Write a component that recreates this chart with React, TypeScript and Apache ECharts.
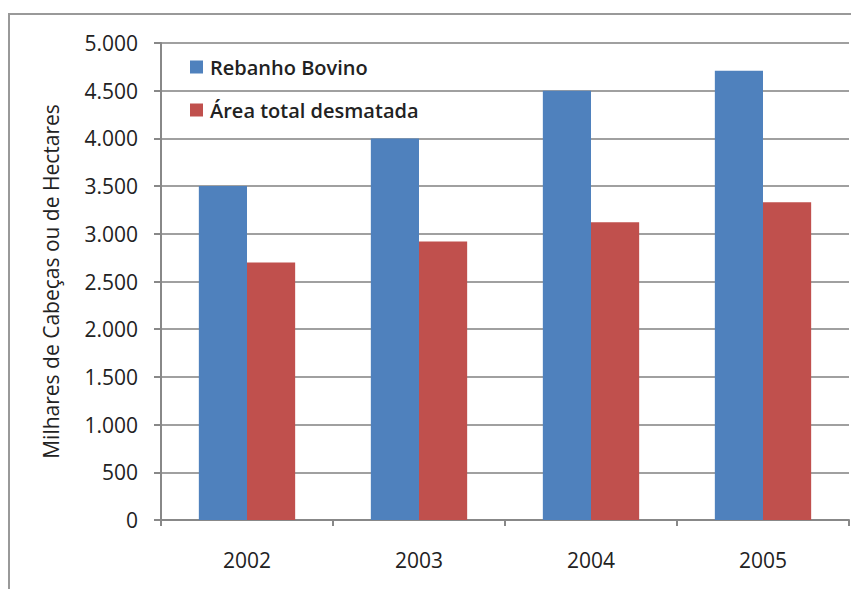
import React, { useEffect, useRef } from "react";
import * as echarts from "echarts";

const categories = ["2002", "2003", "2004", "2005"];
const rebanhoBovino = [3500, 4000, 4500, 4710];
const areaDesmatada = [2700, 2920, 3120, 3330];
const seriesNames = ["Rebanho Bovino", "Área total desmatada"];
const yAxisName = "Milhares de Cabeças ou de Hectares";

const FONT = "'Open Sans', 'Noto Sans', sans-serif";

function fmt(v: number): string {
  const s = String(Math.round(v));
  return s.replace(/\B(?=(\d{3})+(?!\d))/g, ".");
}

export default function App() {
  const ref = useRef<HTMLDivElement>(null);
  useEffect(() => {
    if (!ref.current) return;
    const chart = echarts.init(ref.current, undefined, { renderer: "svg" });
    chart.setOption({
      animation: false,
      backgroundColor: "#ffffff",
      textStyle: { fontFamily: FONT },
      grid: { left: 161, right: 2, top: 43, bottom: 69, containLabel: false },
      legend: {
        orient: "vertical",
        left: 190,
        top: 57,
        padding: 0,
        itemWidth: 13,
        itemHeight: 13,
        itemGap: 23,
        icon: "rect",
        data: seriesNames,
        textStyle: { fontFamily: FONT, fontSize: 20, fontWeight: 600, color: "#222", padding: [0, 0, 0, 2] },
      },
      xAxis: {
        type: "category",
        data: categories,
        axisLine: { lineStyle: { color: "#888", width: 2 } },
        axisTick: { show: true, length: 6, lineStyle: { color: "#888", width: 2 } },
        axisLabel: { fontFamily: FONT, fontSize: 21, color: "#222", margin: 29 },
      },
      yAxis: {
        type: "value",
        min: 0,
        max: 5000,
        interval: 500,
        name: yAxisName,
        nameLocation: "middle",
        nameGap: 100,
        nameTextStyle: { fontFamily: FONT, fontSize: 21, color: "#222" },
        axisLine: { show: true, lineStyle: { color: "#888", width: 2 } },
        axisTick: { show: true, length: 7, lineStyle: { color: "#888", width: 2 } },
        splitLine: { lineStyle: { color: "#a0a0a0", width: 2 } },
        axisLabel: {
          fontFamily: FONT,
          fontSize: 21,
          color: "#222",
          margin: 23,
          formatter: (v: number) => fmt(v),
        },
      },
      series: [
        {
          name: seriesNames[0],
          type: "bar",
          data: rebanhoBovino,
          barWidth: "28%",
          barGap: "0%",
          itemStyle: { color: "#4F81BD" },
        },
        {
          name: seriesNames[1],
          type: "bar",
          data: areaDesmatada,
          barWidth: "28%",
          barGap: "0%",
          itemStyle: { color: "#C0504D" },
        },
      ],
      graphic: [
        {
          type: "rect",
          shape: { x: 9, y: 14, width: 900, height: 700 },
          style: { fill: "none", stroke: "#999", lineWidth: 2 },
          silent: true,
          z: -1,
        },
      ],
    });
    return () => chart.dispose();
  }, []);
  return (
    <div
      ref={ref}
      style={{ position: "absolute", left: 0, top: 0, width: 851, height: 589 }}
    />
  );
}
